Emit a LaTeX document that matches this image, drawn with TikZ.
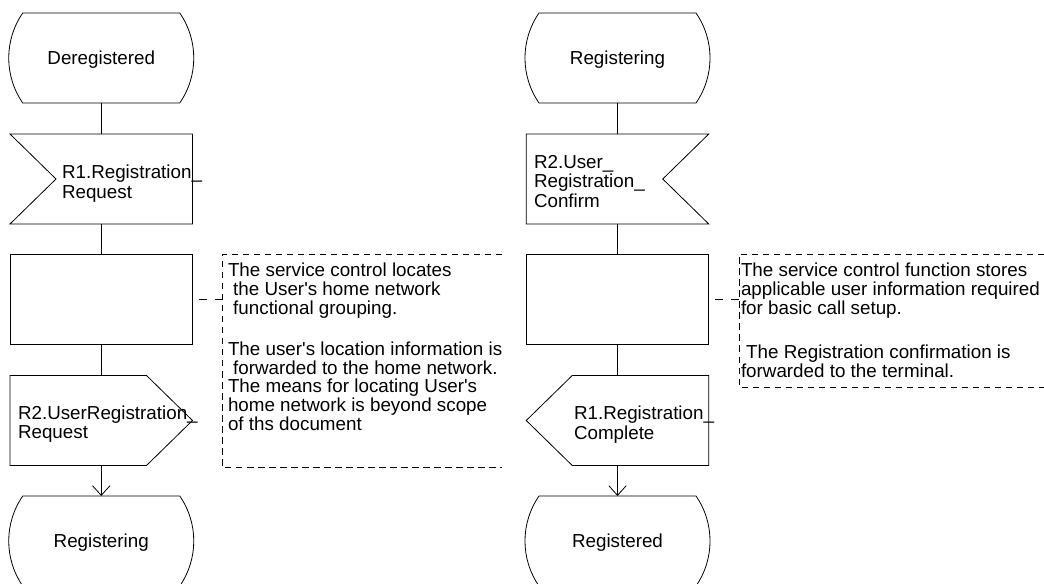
\documentclass[tikz,border=0pt]{standalone}
\usepackage{fontspec}
\setmainfont{Liberation Sans}[Ligatures=TeXOff]
\usetikzlibrary{arrows.meta}
\tikzset{
  blk/.style={minimum width=182.5bp, minimum height=90bp, inner sep=0pt, outer sep=0pt},
  statebox/.style={blk, text height=13.5bp, text depth=0pt},
  lbl/.style={anchor=base west, inner sep=0pt, outer sep=0pt},
  flow/.style={draw=black, line width=0.8bp},
  brk/.style={draw=black, line width=0.8bp, dash pattern=on 6.5bp off 4.5bp},
  lnk/.style={draw=black, line width=0.8bp, dash pattern=on 8bp off 8bp, dash phase=9.5bp},
  cbox/.style={inner sep=0pt, outer sep=0pt},
}
\newcommand\symState[1]{\draw[flow, shift={(#1.center)}] (-78.5,-45) -- (78.5,-45) .. controls (97.2,-17.9) and (97.2,17.9) .. (78.5,45) -- (-78.5,45) .. controls (-97.2,17.9) and (-97.2,-17.9) .. cycle;}
\newcommand\symInL[1]{\draw[flow, shift={(#1.center)}] (-91.25,-45) -- (91.25,-45) -- (91.25,45) -- (-91.25,45) -- (-45.25,0) -- cycle;}
\newcommand\symInR[1]{\draw[flow, shift={(#1.center)}] (-91.25,-45) -- (91.25,-45) -- (45.25,0) -- (91.25,45) -- (-91.25,45) -- cycle;}
\newcommand\symOutR[1]{\draw[flow, shift={(#1.center)}] (-91.25,-45) -- (45.25,-45) -- (91.25,0) -- (45.25,45) -- (-91.25,45) -- cycle;}
\newcommand\symOutL[1]{\draw[flow, shift={(#1.center)}] (-45.25,-45) -- (91.25,-45) -- (91.25,45) -- (-45.25,45) -- (-91.25,0) -- cycle;}
\begin{document}
\begin{tikzpicture}[x=1bp, y=-1bp, font=\fontsize{18.8bp}{20bp}\selectfont, line join=miter]
\useasboundingbox (0,0) rectangle (1044,584);
\clip (0,0) rectangle (1044,584);

% ---------- left column ----------
\node[statebox] (s1) at (101.25,58) {Deregistered};
\node[blk] (i1) at (101.25,179) {};
\node[blk, flow] (t1) at (101.25,299.5) {};
\node[blk] (o1) at (101.25,420.5) {};
\node[statebox] (s2) at (101.25,541) {Registering};
\symState{s1}
\symInL{i1}
\symOutR{o1}
\symState{s2}
\node[lbl] (i1a) at (62,179) {R1.Registration\_};
\node[lbl] (i1b) at (62,198.5) {Request};
\node[lbl] (o1a) at (18,419) {R2.UserRegistration\_};
\node[lbl] (o1b) at (18,438.5) {Request};

\draw[flow] (s1.south) -- (i1.north);
\draw[flow] (i1.south) -- (t1.north);
\draw[flow] (t1.south) -- (o1.north);
\draw[flow, -{Straight Barb[length=9.7bp, width=17.4bp]}] (o1.south) -- (s2.north);

% left comment
\node[cbox, minimum width=279.5bp, minimum height=213bp] (c1) at (362.25,361) {};
\draw[brk] (c1.north east) -- (c1.north west) -- (c1.south west) -- (c1.south east);
\draw[lnk] (t1.east) -- (t1.east -| c1.west);
\node[lbl] (c1l1) at (228,277) {The service control locates};
\node[lbl] (c1l2) at (228,295.7) {\hspace*{0.278em}the User's home network};
\node[lbl] (c1l3) at (228,314.4) {\hspace*{0.278em}functional grouping.};
\node[lbl] (c1l4) at (228,355.5) {The user's location information is};
\node[lbl] (c1l5) at (228,374.2) {\hspace*{0.278em}forwarded to the home network.};
\node[lbl] (c1l6) at (228,392.9) {The means for locating User's};
\node[lbl] (c1l7) at (228,411.6) {home network is beyond scope};
\node[lbl] (c1l8) at (228,430.3) {of ths document};

% ---------- right column ----------
\node[statebox] (s3) at (617.5,58) {Registering};
\node[blk] (i2) at (617.5,179) {};
\node[blk, flow] (t2) at (617.5,299.5) {};
\node[blk] (o2) at (617.5,420.5) {};
\node[statebox] (s4) at (617.5,541) {Registered};
\symState{s3}
\symInR{i2}
\symOutL{o2}
\symState{s4}
\node[lbl] (i2a) at (534,168.5) {R2.User\_};
\node[lbl] (i2b) at (534,188) {Registration\_};
\node[lbl] (i2c) at (534,207.5) {Confirm};
\node[lbl] (o2a) at (574,419.5) {R1.Registration\_};
\node[lbl] (o2b) at (574,439) {Complete};

\draw[flow] (s3.south) -- (i2.north);
\draw[flow] (i2.south) -- (t2.north);
\draw[flow] (t2.south) -- (o2.north);
\draw[flow, -{Straight Barb[length=9.7bp, width=17.4bp]}] (o2.south) -- (s4.north);

% right comment
\node[cbox, minimum width=305bp, minimum height=132.5bp] (c2) at (891.5,320.75) {};
\draw[brk] (c2.north east) -- (c2.north west) -- (c2.south west) -- (c2.south east);
\draw[lnk] (t2.east) -- (t2.east -| c2.west);
\node[lbl] (c2l1) at (741,277) {The service control function stores};
\node[lbl] (c2l2) at (741,295.7) {applicable user information required};
\node[lbl] (c2l3) at (741,314.4) {for basic call setup.};
\node[lbl] (c2l4) at (741,358.5) {\hspace*{0.278em}The Registration confirmation is};
\node[lbl] (c2l5) at (741,377.2) {forwarded to the terminal.};
\end{tikzpicture}
\end{document}
